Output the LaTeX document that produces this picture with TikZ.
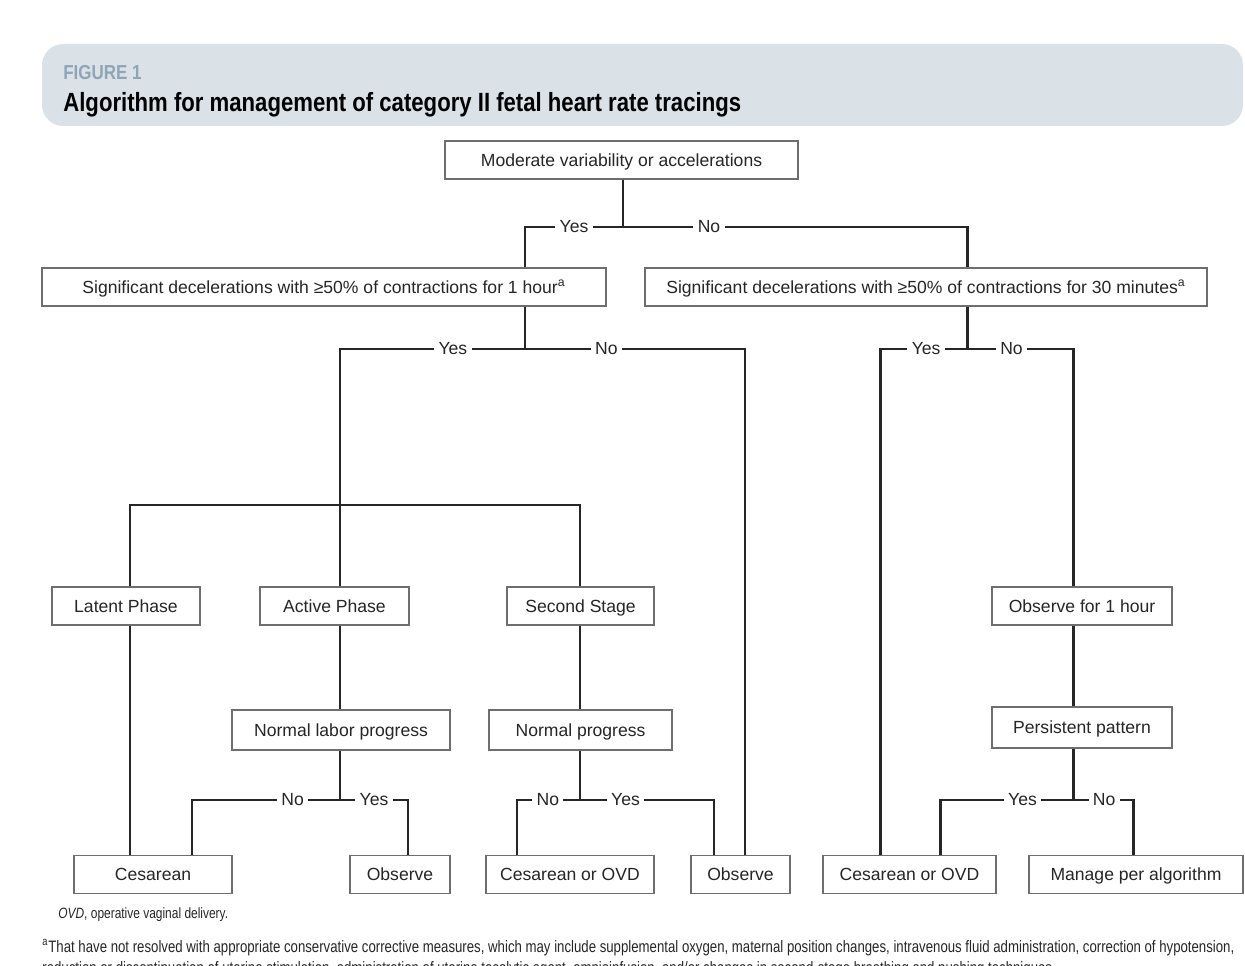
\documentclass[tikz,border=0pt]{standalone}
\usepackage{fontspec}
\setmainfont{Liberation Sans}
\newfontfamily\condfont[FakeStretch=0.84]{Liberation Sans}
\newfontfamily\notefont[FakeStretch=0.8]{Liberation Sans}
\usetikzlibrary{positioning}

\definecolor{hdrfill}{HTML}{DAE2E8}
\definecolor{figgray}{HTML}{8FA4B5}
\definecolor{boxline}{HTML}{6E6E6E}
\definecolor{ink}{HTML}{262626}

\tikzset{
  box/.style={draw=boxline, line width=0.8pt, fill=white, text=ink,
    minimum height=0.76cm, inner sep=2pt, text height=8pt, text depth=1pt,
    font=\fontsize{10}{12}\selectfont},
  lbl/.style={fill=white, text=ink, inner sep=2.5pt, font=\fontsize{10}{12}\selectfont},
  link/.style={line width=1.7pt, draw=ink},
  note/.style={anchor=base west, inner sep=0pt, text=ink},
}

\begin{document}
\begin{tikzpicture}[x=0.02cm, y=-0.02cm]
  \useasboundingbox (0,0) rectangle (1245,966);

  % heading
  \fill[hdrfill, rounded corners=12pt] (42,44) rectangle (1243,126);
  \node[anchor=base west, inner sep=0pt, text=figgray, font=\condfont\bfseries\fontsize{11.5}{13}\selectfont] (fig) at (63,80) {FIGURE 1};
  \node[anchor=base west, inner sep=0pt, font=\condfont\bfseries\fontsize{15}{18}\selectfont] (ttl) at (63,112) {Algorithm for management of category II fetal heart rate tracings};

  % boxes
  \node[box, minimum width=7.06cm] (mv) at (621.5,160) {Moderate variability or accelerations};
  \node[box, minimum width=11.28cm] (sd1) at (324,287) {Significant decelerations with ≥50\% of contractions for 1 hour\textsuperscript{a}};
  \node[box, minimum width=11.24cm] (sd30) at (926,287) {Significant decelerations with ≥50\% of contractions for 30 minutes\textsuperscript{a}};

  \node[box, minimum width=2.96cm] (lat) at (126,606) {Latent Phase};
  \node[box, minimum width=2.98cm] (act) at (334.5,606) {Active Phase};
  \node[box, minimum width=2.94cm] (sec) at (580.5,606) {Second Stage};
  \node[box, minimum width=3.6cm] (obs1) at (1082,606) {Observe for 1 hour};

  \node[box, minimum width=4.36cm, minimum height=0.8cm] (nlp) at (341,730) {Normal labor progress};
  \node[box, minimum width=3.66cm, minimum height=0.8cm] (np) at (580.5,730) {Normal progress};
  \node[box, minimum width=3.6cm, minimum height=0.82cm] (pp) at (1082,727.5) {Persistent pattern};

  \node[box, minimum width=3.16cm] (ces1) at (153,874.5) {Cesarean};
  \node[box, minimum width=2.0cm] (obs2) at (400,874.5) {Observe};
  \node[box, minimum width=3.36cm] (ovd1) at (570,874.5) {Cesarean or OVD};
  \node[box, minimum width=1.98cm] (obs3) at (740.5,874.5) {Observe};
  \node[box, minimum width=3.46cm] (ovd2) at (909.5,874.5) {Cesarean or OVD};
  \node[box, minimum width=4.28cm] (mpa) at (1136,874.5) {Manage per algorithm};

  % junctions
  \coordinate (t1) at (623,227);  \coordinate (yA) at (525,227);  \coordinate (nA) at (967,227);
  \coordinate (t2) at (525,349);  \coordinate (yB) at (340,349);  \coordinate (nB) at (745,349);
  \coordinate (t3) at (967,349);  \coordinate (yC) at (880,349);  \coordinate (nC) at (1073,349);
  \coordinate (bA) at (340,505);  \coordinate (bL) at (130,505);  \coordinate (bR) at (580,505);
  \coordinate (t4) at (340,800);  \coordinate (nD) at (192,800);  \coordinate (yD) at (408,800);
  \coordinate (t5) at (580,800);  \coordinate (nE) at (517,800);  \coordinate (yE) at (714,800);
  \coordinate (t6) at (1073,800); \coordinate (yF) at (940,800);  \coordinate (nF) at (1133,800);

  % connectors
  \draw[link] (mv.south -| t1) -- (t1);
  \draw[link] (yA |- sd1.north) -- (yA) -- node[lbl]{Yes} (t1) -- node[lbl, pos=0.25]{No} (nA) -- (nA |- sd30.north);

  \draw[link] (sd1.south -| t2) -- (t2);
  \draw[link] (bA) -- (yB) -- node[lbl, pos=0.61]{Yes} (t2) -- node[lbl, pos=0.37]{No} (nB) -- (nB |- obs3.north);
  \draw[link] (bL |- lat.north) -- (bL) -- (bR) -- (bR |- sec.north);
  \draw[link] (bA) -- (bA |- act.north);

  \draw[link] (sd30.south -| t3) -- (t3);
  \draw[link] (yC |- ovd2.north) -- (yC) -- node[lbl, pos=0.53]{Yes} (t3) -- node[lbl, pos=0.42]{No} (nC) -- (nC |- obs1.north);

  \draw[link] (lat.south -| bL) -- (ces1.north -| bL);
  \draw[link] (act.south -| bA) -- (nlp.north -| bA);
  \draw[link] (sec.south -| bR) -- (np.north -| bR);
  \draw[link] (obs1.south -| nC) -- (pp.north -| nC);

  \draw[link] (nlp.south -| t4) -- (t4);
  \draw[link] (nD |- ces1.north) -- (nD) -- node[lbl, pos=0.68]{No} (t4) -- node[lbl]{Yes} (yD) -- (yD |- obs2.north);
  \draw[link] (np.south -| t5) -- (t5);
  \draw[link] (nE |- ovd1.north) -- (nE) -- node[lbl, pos=0.49]{No} (t5) -- node[lbl, pos=0.34]{Yes} (yE) -- (yE |- obs3.north);
  \draw[link] (pp.south -| t6) -- (t6);
  \draw[link] (yF |- ovd2.north) -- (yF) -- node[lbl, pos=0.62]{Yes} (t6) -- node[lbl, pos=0.52]{No} (nF) -- (nF |- mpa.north);

  % notes
  \node[note, font=\notefont\fontsize{8.5}{10}\selectfont] (abbr) at (58,918) {\textit{OVD}, operative vaginal delivery.};
  \node[note, font=\notefont\fontsize{9.4}{10}\selectfont] (fna) at (42,952) {\textsuperscript{a}That have not resolved with appropriate conservative corrective measures, which may include supplemental oxygen, maternal position changes, intravenous fluid administration, correction of hypotension,};
  \node[note, font=\notefont\fontsize{9.4}{10}\selectfont] (fnb) at (42,973) {reduction or discontinuation of uterine stimulation, administration of uterine tocolytic agent, amnioinfusion, and/or changes in second-stage breathing and pushing techniques.};
\end{tikzpicture}
\end{document}
